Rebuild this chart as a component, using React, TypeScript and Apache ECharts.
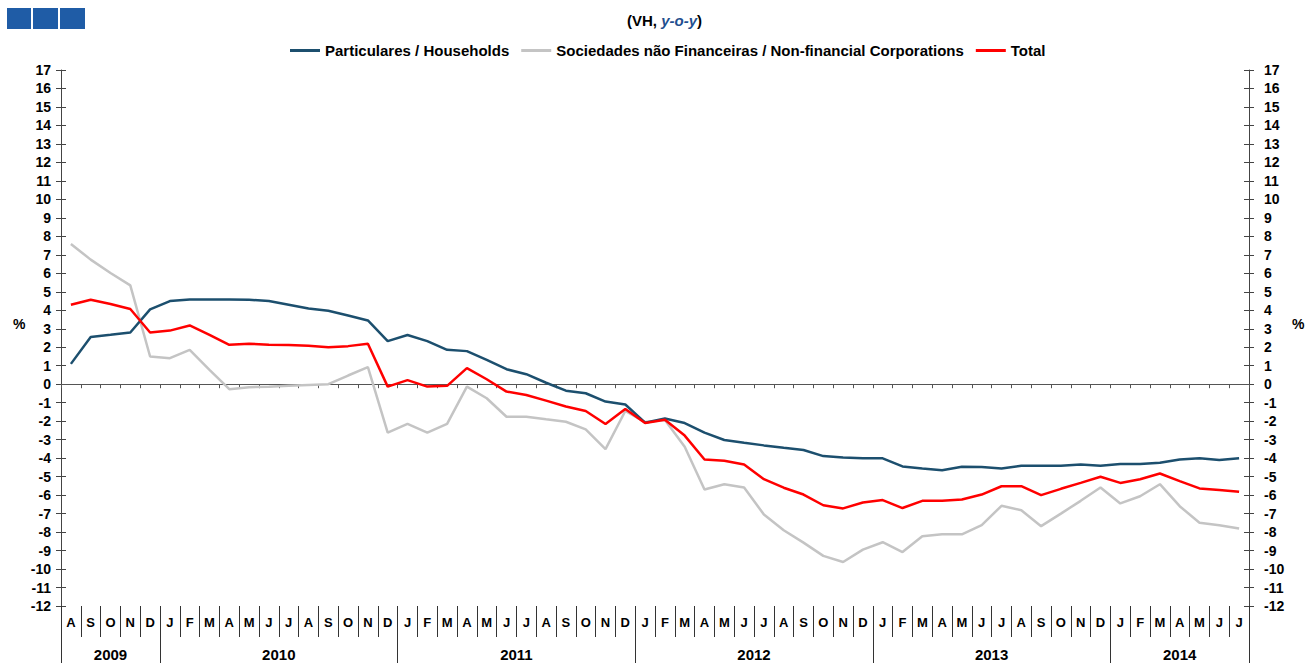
import React, { useEffect, useRef } from 'react';
import * as echarts from 'echarts';

const FONT = "'Liberation Sans', Arial, sans-serif";

const monthLabels = [
  'A', 'S', 'O', 'N', 'D',
  'J', 'F', 'M', 'A', 'M', 'J', 'J', 'A', 'S', 'O', 'N', 'D',
  'J', 'F', 'M', 'A', 'M', 'J', 'J', 'A', 'S', 'O', 'N', 'D',
  'J', 'F', 'M', 'A', 'M', 'J', 'J', 'A', 'S', 'O', 'N', 'D',
  'J', 'F', 'M', 'A', 'M', 'J', 'J', 'A', 'S', 'O', 'N', 'D',
  'J', 'F', 'M', 'A', 'M', 'J', 'J',
];
const years = ['2009', '2010', '2011', '2012', '2013', '2014'];
const monthsPerYear = [5, 12, 12, 12, 12, 7];

const seriesNames = [
  'Particulares / Households',
  'Sociedades não Financeiras / Non-financial Corporations',
  'Total',
];

const households = [
  1.1, 2.55, 2.67, 2.8, 4.05,
  4.5, 4.58, 4.58, 4.58, 4.57, 4.5, 4.3, 4.1, 3.97, 3.72, 3.45, 2.33,
  2.66, 2.33, 1.86, 1.79, 1.32, 0.81, 0.54, 0.08, -0.35, -0.49, -0.94, -1.1,
  -2.08, -1.86, -2.1, -2.62, -3.02, -3.17, -3.31, -3.44, -3.56, -3.89, -3.96, -4.01,
  -4.01, -4.45, -4.56, -4.66, -4.47, -4.48, -4.56, -4.41, -4.41, -4.41, -4.34, -4.41,
  -4.32, -4.32, -4.25, -4.07, -4.01, -4.1, -4.01,
];
const corporations = [
  7.59, 6.74, 6.02, 5.35, 1.5,
  1.41, 1.86, 0.78, -0.27, -0.16, -0.14, -0.09, -0.04, 0.0, 0.47, 0.92, -2.62,
  -2.15, -2.62, -2.15, -0.13, -0.76, -1.76, -1.76, -1.9, -2.03, -2.44, -3.51, -1.45,
  -2.05, -1.94, -3.38, -5.7, -5.41, -5.59, -7.05, -7.9, -8.57, -9.29, -9.62, -8.95,
  -8.55, -9.08, -8.23, -8.12, -8.12, -7.63, -6.58, -6.82, -7.68, -7.0, -6.31, -5.59,
  -6.45, -6.06, -5.41, -6.6, -7.5, -7.63, -7.81,
];
const total = [
  4.3, 4.57, 4.34, 4.07, 2.8,
  2.9, 3.18, 2.67, 2.13, 2.19, 2.13, 2.12, 2.08, 2.0, 2.06, 2.19, -0.13,
  0.22, -0.13, -0.09, 0.87, 0.27, -0.4, -0.58, -0.89, -1.21, -1.45, -2.15, -1.34,
  -2.1, -1.92, -2.78, -4.07, -4.14, -4.34, -5.14, -5.6, -5.97, -6.55, -6.72, -6.4,
  -6.27, -6.7, -6.31, -6.31, -6.24, -5.97, -5.52, -5.52, -6.0, -5.66, -5.34, -5.01,
  -5.34, -5.14, -4.83, -5.24, -5.64, -5.73, -5.82,
];

const Y_MIN = -12;
const Y_MAX = 17;
const Y_STEP = 1;

export default function App() {
  const ref = useRef<HTMLDivElement>(null);

  useEffect(() => {
    if (!ref.current) return;
    const chart = echarts.init(ref.current, undefined, { renderer: 'svg' });

    const nMonths = monthLabels.length;
    const boundaries: number[] = [0];
    monthsPerYear.forEach((m) => boundaries.push(boundaries[boundaries.length - 1] + m));
    const centers = monthsPerYear.map((m, i) => boundaries[i] + m / 2);

    const baseLabel = { fontFamily: FONT, fontWeight: 'bold' as const, fontSize: 13, color: '#000' };

    const yCommon = {
      type: 'value' as const,
      min: Y_MIN,
      max: Y_MAX,
      interval: Y_STEP,
      splitLine: { show: false },
    };

    chart.setOption({
      animation: false,
      backgroundColor: '#fff',
      title: {
        left: 622,
        top: 8,
        text: '{a|(VH, }{b|y-o-y}{a|)}',
        textStyle: {
          rich: {
            a: { fontFamily: FONT, fontWeight: 'bold', fontSize: 15, color: '#000' },
            b: { fontFamily: FONT, fontWeight: 'bold', fontStyle: 'italic', fontSize: 15, color: '#1f4f8f' },
          },
        },
      },
      legend: {
        top: 38,
        left: 285,
        icon: 'rect',
        itemWidth: 30,
        itemHeight: 3,
        itemGap: 12,
        data: seriesNames,
        textStyle: { fontFamily: FONT, fontWeight: 'bold', fontSize: 15, color: '#000' },
      },
      graphic: [
        { type: 'rect', left: 7, top: 8, shape: { width: 24, height: 21 }, style: { fill: '#1f5ca6' } },
        { type: 'rect', left: 33, top: 8, shape: { width: 25, height: 21 }, style: { fill: '#1f5ca6' } },
        { type: 'rect', left: 60, top: 8, shape: { width: 25, height: 21 }, style: { fill: '#1f5ca6' } },
        { type: 'text', left: 13, top: 317, style: { text: '%', font: `bold 14px ${FONT}`, fill: '#000' } },
        { type: 'text', left: 1292, top: 317, style: { text: '%', font: `bold 14px ${FONT}`, fill: '#000' } },
      ],
      grid: { left: 61, right: 57, top: 70, bottom: 57, containLabel: false },
      xAxis: [
        {
          type: 'category',
          data: monthLabels.map((_, i) => String(i)),
          boundaryGap: true,
          position: 'bottom',
          axisLine: { onZero: true, lineStyle: { color: '#555', width: 1 } },
          axisTick: { show: true, interval: 0, length: 4, lineStyle: { color: '#555' } },
          axisLabel: { show: false },
          splitLine: { show: false },
          z: 1,
        },
        {
          type: 'category',
          data: monthLabels.map((_, i) => String(i)),
          boundaryGap: true,
          position: 'bottom',
          axisLine: { show: false, onZero: false },
          axisTick: { show: true, interval: 0, length: 31, lineStyle: { color: '#333' } },
          axisLabel: {
            show: true,
            interval: 0,
            margin: 10,
            ...baseLabel,
            formatter: (_v: string, idx: number) => monthLabels[idx],
          },
          splitLine: { show: false },
        },
        {
          type: 'value',
          min: 0,
          max: nMonths,
          position: 'bottom',
          axisLine: { show: false, onZero: false },
          axisTick: { show: true, length: 57, customValues: boundaries, lineStyle: { color: '#333' } },
          axisLabel: {
            show: true,
            margin: 41,
            customValues: centers,
            ...baseLabel,
            fontSize: 15,
            formatter: (v: number) => {
              const k = centers.indexOf(v);
              return k >= 0 ? years[k] : '';
            },
          },
          splitLine: { show: false },
        },
      ],
      yAxis: [
        {
          ...yCommon,
          position: 'left',
          axisLine: { show: true, lineStyle: { color: '#444' } },
          axisTick: { show: true, length: 5, lineStyle: { color: '#444' } },
          axisLabel: { margin: 10, ...baseLabel, fontSize: 14 },
        },
        {
          ...yCommon,
          position: 'left',
          axisLine: { show: false },
          axisTick: { show: true, inside: true, length: 5, lineStyle: { color: '#444' } },
          axisLabel: { show: false },
        },
        {
          ...yCommon,
          position: 'right',
          axisLine: { show: true, lineStyle: { color: '#444' } },
          axisTick: { show: true, length: 5, lineStyle: { color: '#444' } },
          axisLabel: { margin: 15, ...baseLabel, fontSize: 14 },
        },
        {
          ...yCommon,
          position: 'right',
          axisLine: { show: false },
          axisTick: { show: true, inside: true, length: 5, lineStyle: { color: '#444' } },
          axisLabel: { show: false },
        },
      ],
      series: [
        {
          name: seriesNames[0],
          type: 'line',
          data: households,
          symbol: 'none',
          color: '#1c4f6e',
          lineStyle: { width: 2.5, color: '#1c4f6e' },
          z: 3,
        },
        {
          name: seriesNames[1],
          type: 'line',
          data: corporations,
          symbol: 'none',
          color: '#c4c4c4',
          lineStyle: { width: 2.5, color: '#c4c4c4' },
          z: 2,
        },
        {
          name: seriesNames[2],
          type: 'line',
          data: total,
          symbol: 'none',
          color: '#ff0000',
          lineStyle: { width: 2.5, color: '#ff0000' },
          z: 4,
        },
      ],
    });

    return () => chart.dispose();
  }, []);

  return (
    <div
      ref={ref}
      style={{ position: 'fixed', left: 0, top: 0, width: 1306, height: 663, background: '#fff' }}
    />
  );
}
